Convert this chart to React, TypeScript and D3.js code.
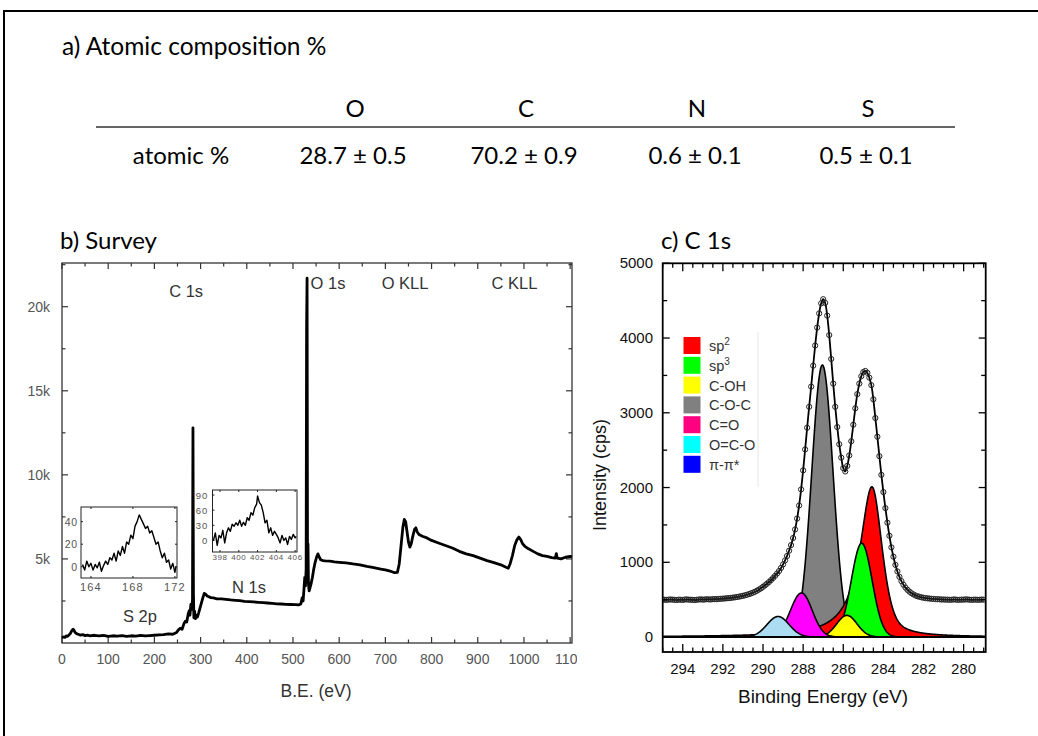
import React from 'react';
import * as d3 from 'd3';

// ---------- a) Atomic composition table ----------
const tableElements = ['O', 'C', 'N', 'S'];
const tableRowLabel = 'atomic %';
const tableValues = ['28.7 ± 0.5', '70.2 ± 0.9', '0.6 ± 0.1', '0.5 ± 0.1'];

// ---------- b) Survey spectrum (B.E. eV, counts) ----------
const surveyEnergy = [
  0, 3, 6, 9, 12, 15, 18, 21, 24, 26, 28, 31, 35, 40, 45, 50, 55, 60, 70, 80, 90, 100, 110, 120, 130, 140, 150,
  160, 170, 180, 190, 200, 210, 220, 230, 240, 248, 252, 256, 260, 264, 267, 270, 273, 275, 277, 279, 281, 282.5,
  283.5, 284.5, 285.5, 287, 289, 291, 293, 296, 299, 302, 305, 308, 311, 314, 318, 322, 328, 335, 345, 355, 365,
  375, 385, 395, 405, 415, 425, 435, 445, 455, 465, 475, 485, 495, 505, 512, 517, 520, 522, 524, 525.5, 527, 528.5,
  529.5, 530.5, 531.5, 532.5, 533.5, 535, 537, 539, 542, 545, 548, 551, 554, 557, 560, 565, 570, 580, 590, 600,
  615, 630, 645, 660, 675, 690, 700, 710, 720, 726, 730, 734, 738, 741, 744, 747, 750, 753, 756, 759, 763, 766,
  769, 773, 780, 790, 800, 815, 830, 845, 860, 875, 890, 905, 920, 935, 950, 960, 966, 970, 975, 980, 985, 989,
  993, 997, 1002, 1010, 1020, 1030, 1040, 1050, 1060, 1068, 1070, 1072, 1080, 1090, 1100, 1104,
];
const surveyCounts = [
  300, 360, 330, 420, 400, 480, 560, 720, 820, 760, 640, 560, 520, 470, 500, 440, 470, 430, 460, 420, 450, 400, 430, 410, 440, 400, 430,
  410, 450, 420, 440, 460, 480, 500, 540, 520, 620, 780, 880, 820, 1150, 1300, 1250, 1700, 1900, 1650, 2300, 2000, 2600,
  12800, 3000, 1500, 1900, 1450, 1650, 1550, 1800, 2100, 2400, 2700, 2950, 2900, 2800, 2750, 2700, 2680, 2630, 2620, 2590, 2560,
  2540, 2520, 2470, 2460, 2440, 2420, 2400, 2380, 2360, 2330, 2320, 2300, 2290, 2280, 2270, 2320, 2700, 2500, 3300, 3900, 3400, 4400,
  18800, 21700, 4200, 5900, 3500, 3100, 3300, 3500, 3900, 4400, 4800, 5100, 5300, 5100, 4950, 4900, 4880, 4870, 4830, 4800,
  4760, 4700, 4650, 4560, 4480, 4400, 4350, 4280, 4180, 4200, 4700, 5800, 6900, 7350, 7200, 6600, 6000, 5700, 5900, 6300, 6750, 6850,
  6600, 6450, 6350, 6250, 6100, 5950, 5800, 5650, 5450, 5300, 5200, 5050, 4900, 4780, 4650, 4520, 4450, 4700, 5200, 5800, 6150, 6300,
  6150, 5900, 5750, 5600, 5450, 5300, 5200, 5150, 5080, 5050, 5320, 5050, 5000, 5100, 5150, 5120,
];
const surveyXTickLabels = [0, 100, 200, 300, 400, 500, 600, 700, 800, 900, 1000, 1100];
const surveyYTickValues = [5000, 10000, 15000, 20000];
const surveyYTickLabels = ['5k', '10k', '15k', '20k'];
// peak annotations anchored in data coordinates (eV, counts)
const surveyLabelText = ['C 1s', 'O 1s', 'O KLL', 'C KLL', 'S 2p', 'N 1s'];
const surveyLabelEV = [232, 538, 692, 930, 132, 368];
const surveyLabelCounts = [20600, 21050, 21050, 21050, 1250, 2950];

// S 2p inset
const s2pEnergy = [
  163.2, 163.4, 163.6, 163.8, 164.0, 164.2, 164.4, 164.6, 164.8, 165.0, 165.2, 165.4, 165.6, 165.8, 166.0, 166.2,
  166.4, 166.6, 166.8, 167.0, 167.2, 167.4, 167.6, 167.8, 168.0, 168.2, 168.4, 168.6, 168.8, 169.0, 169.2, 169.4,
  169.6, 169.8, 170.0, 170.2, 170.4, 170.6, 170.8, 171.0, 171.2, 171.4, 171.6, 171.8, 172.0, 172.1,
];
const s2pCounts = [
  2, -3, 5, 0, 3, -3, 2, -1, 4, -4, 1, 5, 2, 8, 6, 12,
  5, 14, 10, 18, 12, 22, 20, 28, 25, 36, 40, 46, 42, 38, 34, 36,
  30, 32, 26, 20, 22, 14, 8, 12, 4, 6, -2, 3, -5, 0,
];
const s2pXTicks = [164, 168, 172];
const s2pYTicks = [0, 20, 40];

// N 1s inset
const n1sEnergy = [
  397.3, 397.5, 397.7, 397.9, 398.1, 398.3, 398.5, 398.7, 398.9, 399.1, 399.3, 399.5, 399.7, 399.9, 400.1, 400.3,
  400.5, 400.7, 400.9, 401.1, 401.3, 401.5, 401.7, 401.9, 402.0, 402.2, 402.4, 402.6, 402.8, 403.0, 403.2, 403.4,
  403.6, 403.8, 404.0, 404.2, 404.4, 404.6, 404.8, 405.0, 405.2, 405.4, 405.6, 405.8, 406.0, 406.1,
];
const n1sCounts = [
  0, 15, -10, 10, 5, 20, -5, 15, 25, 18, 32, 28, 35, 30, 40, 28,
  36, 30, 45, 40, 55, 50, 65, 72, 88, 75, 70, 55, 35, 40, 15, 25,
  10, 18, 12, 5, -5, 10, 0, 5, -8, 8, 2, 12, 5, 8,
];
const n1sXTicks = [398, 400, 402, 404, 406];
const n1sYTicks = [0, 30, 60, 90];

// ---------- c) C 1s ----------
const c1sStartEV = 295.0;
const c1sStepEV = 0.1;
const c1sCounts = [
  502, 499, 497, 501, 503, 500, 498, 495, 501, 499, 496, 502, 504, 500, 499, 497, 495, 499, 502, 505,
  500, 503, 506, 504, 503, 507, 508, 506, 511, 512, 514, 516, 519, 521, 524, 528, 531, 536, 540, 546,
  552, 558, 566, 574, 584, 594, 606, 620, 636, 652, 672, 692, 714, 737, 762, 789, 818, 850, 884, 925,
  972, 1025, 1085, 1155, 1230, 1325, 1440, 1585, 1760, 1975, 2230, 2510, 2800, 3080, 3350, 3630, 3900, 4140, 4330, 4465,
  4520, 4470, 4300, 4040, 3720, 3390, 3080, 2810, 2580, 2400, 2260, 2215, 2290, 2430, 2620, 2840, 3060, 3250, 3390, 3490,
  3545, 3560, 3535, 3470, 3370, 3180, 2930, 2680, 2420, 2170, 1940, 1725, 1530, 1355, 1200, 1075, 965, 878, 805, 748,
  700, 662, 632, 607, 586, 570, 556, 546, 538, 531, 526, 521, 518, 515, 512, 510, 508, 506, 505, 502,
  503, 500, 501, 498, 499, 503, 502, 497, 498, 501, 500, 504, 503, 499, 497, 500, 501, 498, 499, 502,
  500,
];
// fitted components (drawing order): name, centre (eV), height (cps), FWHM high-BE side, FWHM low-BE side, Lorentz fraction high/low
const compNames = ['C-O-C', 'sp2', 'sp3', 'C-OH', 'C=O', 'O=C-O'];
const compCenter = [287.04, 284.57, 285.08, 285.82, 288.08, 289.25];
const compHeight = [3640, 2010, 1255, 290, 590, 275];
const compFwhmHigh = [1.25, 1.45, 1.22, 1.2, 1.3, 1.3];
const compFwhmLow = [1.25, 1.2, 1.22, 1.2, 1.25, 1.3];
const compLorHigh = [0, 1.0, 0, 0, 0, 0];
const compLorLow = [0, 0.5, 0, 0, 0, 0];
const compColors = ['#808080', '#ff0000', '#00ff00', '#ffff00', '#ff00ff', '#acdcf2'];

const legendNames = ['sp', 'sp', 'C-OH', 'C-O-C', 'C=O', 'O=C-O', 'π-π*'];
const legendSup = ['2', '3', '', '', '', '', ''];
const legendColors = ['#ff0000', '#00ff00', '#ffff00', '#808080', '#ff0080', '#00ffff', '#0000ff'];

const c1sXTickLabels = [294, 292, 290, 288, 286, 284, 282, 280];
const c1sYTickLabels = [0, 1000, 2000, 3000, 4000, 5000];

function lineShape(x: number, i: number): number {
  const dx = x - compCenter[i];
  const hi = dx > 0;
  const w = hi ? compFwhmHigh[i] : compFwhmLow[i];
  const m = hi ? compLorHigh[i] : compLorLow[i];
  const t = (dx * dx) / (w * w);
  const g = Math.exp(-4 * Math.LN2 * t);
  const l = 1 / (1 + 4 * t);
  return compHeight[i] * ((1 - m) * g + m * l);
}

const SANS = '"Liberation Sans", Arial, sans-serif';
const CAL = 'Lato, "Open Sans", sans-serif';

export default function App() {
  // ---- survey scales ----
  const sx = d3.scaleLinear().domain([0, 1104]).range([62, 572]);
  const sy = d3.scaleLinear().domain([0, 22600]).range([643, 263]);
  const surveyPath = d3
    .line<number>()
    .x((_, i) => sx(surveyEnergy[i]))
    .y((d) => sy(d))(surveyCounts) as string;
  const sxMinor = d3.range(0, 1104, 50);
  const syMinor = d3.range(2500, 22600, 2500);

  // insets
  const ax = d3.scaleLinear().domain([163.05, 172.2]).range([81, 177]);
  const ay = d3.scaleLinear().domain([-10, 53]).range([578, 507]);
  const s2pPath = d3.line<number>().x((_, i) => ax(s2pEnergy[i])).y((d) => ay(d))(s2pCounts) as string;
  const bx = d3.scaleLinear().domain([397.2, 406.2]).range([212.5, 297]);
  const by = d3.scaleLinear().domain([-23, 100]).range([552, 490]);
  const n1sPath = d3.line<number>().x((_, i) => bx(n1sEnergy[i])).y((d) => by(d))(n1sCounts) as string;

  // ---- C 1s scales ----
  const cx = d3.scaleLinear().domain([295, 278.9]).range([662.7, 985.7]);
  const cy = d3.scaleLinear().domain([-200, 5000]).range([652, 263.3]);
  const c1sPts = c1sCounts.map((v, i) => [c1sStartEV - i * c1sStepEV, v] as [number, number]);
  const envPath = d3
    .line<[number, number]>()
    .x((d) => cx(d[0]))
    .y((d) => cy(d[1]))
    .curve(d3.curveCatmullRom)(c1sPts) as string;
  const grid = d3.range(295, 278.9, -0.02);
  const compAreas = compNames.map((_, i) =>
    d3
      .area<number>()
      .x((e) => cx(e))
      .y0(cy(0))
      .y1((e) => cy(lineShape(e, i)))(grid) as string
  );
  const cxMinor = d3.range(279, 295.01, 0.5);
  const cyMinor = d3.range(0, 5001, 500);

  const tickCol = '#333';

  return (
    <svg
      width={1038}
      height={736}
      viewBox="0 0 1038 736"
      style={{ position: 'absolute', left: 0, top: 0, background: '#fff' }}
    >
      <defs>
        <clipPath id="surveyClip">
          <rect x={0} y={200} width={577} height={536} />
        </clipPath>
        <clipPath id="c1sClip">
          <rect x={662.7} y={263.3} width={323} height={388.7} />
        </clipPath>
      </defs>
      <rect x={0} y={0} width={1038} height={736} fill="#fff" />
      <rect x={4} y={11} width={1060} height={760} fill="none" stroke="#000" strokeWidth={2} />

      {/* a) table */}
      <text x={62} y={55} fontFamily={CAL} fontSize={24.5} fill="#000">
        a) Atomic composition %
      </text>
      {tableElements.map((e, i) => (
        <text key={e} x={355 + i * 171} y={117} textAnchor="middle" fontFamily={CAL} fontSize={24} fill="#000">
          {e}
        </text>
      ))}
      <line x1={96} x2={955} y1={127} y2={127} stroke="#333" strokeWidth={1.6} />
      <text x={181} y={164} textAnchor="middle" fontFamily={CAL} fontSize={24} fill="#000">
        {tableRowLabel}
      </text>
      {tableValues.map((v, i) => (
        <text key={v} x={353 + i * 171} y={164} textAnchor="middle" fontFamily={CAL} fontSize={24} fill="#000">
          {v}
        </text>
      ))}

      {/* b) survey */}
      <text x={60} y={249} fontFamily={CAL} fontSize={24} fill="#000">
        b) Survey
      </text>
      <g clipPath="url(#surveyClip)">
        <rect x={62} y={263} width={510} height={380} fill="none" stroke="#333" strokeWidth={1.3} />
        {sxMinor.map((v) => {
          const major = v % 100 === 0;
          const len = major ? 6 : 3.5;
          return (
            <g key={'sx' + v}>
              <line x1={sx(v)} x2={sx(v)} y1={643} y2={643 - len} stroke={tickCol} strokeWidth={1.2} />
              <line x1={sx(v)} x2={sx(v)} y1={263} y2={263 + len} stroke={tickCol} strokeWidth={1.2} />
            </g>
          );
        })}
        {syMinor.map((v) => {
          const major = v % 5000 === 0;
          const len = major ? 6 : 3.5;
          return (
            <g key={'sy' + v}>
              <line x1={62} x2={62 + len} y1={sy(v)} y2={sy(v)} stroke={tickCol} strokeWidth={1.2} />
              <line x1={572} x2={572 - len} y1={sy(v)} y2={sy(v)} stroke={tickCol} strokeWidth={1.2} />
            </g>
          );
        })}
        {surveyXTickLabels.map((v) => (
          <text key={'sxl' + v} x={sx(v)} y={664} textAnchor="middle" fontFamily={SANS} fontSize={14} fill="#555">
            {v}
          </text>
        ))}
        {surveyYTickValues.map((v, i) => (
          <text key={'syl' + v} x={50} y={sy(v) + 5} textAnchor="end" fontFamily={SANS} fontSize={14} fill="#555">
            {surveyYTickLabels[i]}
          </text>
        ))}
        <path d={surveyPath} fill="none" stroke="#000" strokeWidth={2.8} strokeLinejoin="round" />
        {surveyLabelText.map((t, i) => (
          <text
            key={t}
            x={sx(surveyLabelEV[i])}
            y={sy(surveyLabelCounts[i])}
            fontFamily={SANS}
            fontSize={16.5}
            fill="#333"
          >
            {t}
          </text>
        ))}
        <text x={316} y={697} textAnchor="middle" fontFamily={SANS} fontSize={17.5} fill="#333">
          B.E. (eV)
        </text>

        {/* S 2p inset */}
        <rect x={81} y={507} width={96} height={71} fill="#fff" stroke="#222" strokeWidth={1} />
        {s2pXTicks.map((v) => (
          <g key={'ax' + v}>
            <line x1={ax(v)} x2={ax(v)} y1={578} y2={576} stroke="#222" />
            <line x1={ax(v)} x2={ax(v)} y1={507} y2={509} stroke="#222" />
            <text x={ax(v)} y={591} textAnchor="middle" fontFamily={SANS} fontSize={11} letterSpacing={1.2} fill="#555">
              {v}
            </text>
          </g>
        ))}
        {s2pYTicks.map((v) => (
          <g key={'ay' + v}>
            <line x1={81} x2={83} y1={ay(v)} y2={ay(v)} stroke="#222" />
            <line x1={177} x2={175} y1={ay(v)} y2={ay(v)} stroke="#222" />
            <text x={78} y={ay(v) + 4} textAnchor="end" fontFamily={SANS} fontSize={10.5} letterSpacing={0.8} fill="#555">
              {v}
            </text>
          </g>
        ))}
        <path d={s2pPath} fill="none" stroke="#000" strokeWidth={1.4} strokeLinejoin="round" />

        {/* N 1s inset */}
        <rect x={212.5} y={490} width={84.5} height={62} fill="#fff" stroke="#222" strokeWidth={1} />
        {n1sXTicks.map((v) => (
          <g key={'bx' + v}>
            <line x1={bx(v)} x2={bx(v)} y1={552} y2={550} stroke="#222" />
            <line x1={bx(v)} x2={bx(v)} y1={490} y2={492} stroke="#222" />
            <text x={bx(v)} y={560} textAnchor="middle" fontFamily={SANS} fontSize={8} letterSpacing={0.6} fill="#555">
              {v}
            </text>
          </g>
        ))}
        {n1sYTicks.map((v) => (
          <g key={'by' + v}>
            <line x1={212.5} x2={214.5} y1={by(v)} y2={by(v)} stroke="#222" />
            <text x={208} y={by(v) + 3.5} textAnchor="end" fontFamily={SANS} fontSize={9.5} letterSpacing={0.8} fill="#555">
              {v}
            </text>
          </g>
        ))}
        <path d={n1sPath} fill="none" stroke="#000" strokeWidth={1.4} strokeLinejoin="round" />
      </g>

      {/* c) C 1s */}
      <text x={661} y={249} fontFamily={CAL} fontSize={24} fill="#000">
        c) C 1s
      </text>
      <g clipPath="url(#c1sClip)">
        {compAreas.map((d, i) => (
          <path key={compNames[i]} d={d} fill={compColors[i]} stroke="#000" strokeWidth={1.6} strokeLinejoin="round" />
        ))}
        <line x1={662.7} x2={985.7} y1={cy(0)} y2={cy(0)} stroke="#000" strokeWidth={2} />
        <path d={envPath} fill="none" stroke="#000" strokeWidth={1.8} />
        {c1sPts.map((p, i) => (
          <circle key={'c' + i} cx={cx(p[0])} cy={cy(p[1])} r={2.6} fill="none" stroke="#222" strokeWidth={1} />
        ))}
      </g>
      <rect x={662.7} y={263.3} width={323} height={388.7} fill="none" stroke="#000" strokeWidth={1.8} />
      {cxMinor.map((v) => {
        const major = Math.abs(v % 2) < 1e-6;
        const len = major ? 8 : 4.5;
        return (
          <g key={'cx' + v}>
            <line x1={cx(v)} x2={cx(v)} y1={652} y2={652 - len} stroke="#000" strokeWidth={1.3} />
            <line x1={cx(v)} x2={cx(v)} y1={263.3} y2={263.3 + len} stroke="#000" strokeWidth={1.3} />
          </g>
        );
      })}
      {cyMinor.map((v) => {
        const major = v % 1000 === 0;
        const len = major ? 7 : 4.5;
        return (
          <g key={'cy' + v}>
            <line x1={662.7} x2={662.7 + len} y1={cy(v)} y2={cy(v)} stroke="#000" strokeWidth={1.3} />
            <line x1={985.7} x2={985.7 - len} y1={cy(v)} y2={cy(v)} stroke="#000" strokeWidth={1.3} />
          </g>
        );
      })}
      {c1sXTickLabels.map((v) => (
        <text key={'cxl' + v} x={cx(v)} y={674} textAnchor="middle" fontFamily={SANS} fontSize={15} fill="#111">
          {v}
        </text>
      ))}
      {c1sYTickLabels.map((v) => (
        <text key={'cyl' + v} x={653} y={cy(v) + 5} textAnchor="end" fontFamily={SANS} fontSize={15} fill="#111">
          {v}
        </text>
      ))}
      <text
        transform="translate(606,475) rotate(-90)"
        textAnchor="middle"
        fontFamily={SANS}
        fontSize={18}
        fill="#111"
      >
        Intensity (cps)
      </text>
      <text x={823} y={703} textAnchor="middle" fontFamily={SANS} fontSize={19} fill="#111">
        Binding Energy (eV)
      </text>

      {/* legend */}
      <line x1={758} x2={758} y1={332} y2={487} stroke="#e6e6e6" strokeWidth={1} />
      {legendNames.map((n, i) => {
        const top = 337 + i * 19.8;
        return (
          <g key={'lg' + i}>
            <rect x={683.5} y={top} width={17} height={17} fill={legendColors[i]} />
            <text x={709} y={top + 14} fontFamily={SANS} fontSize={14.5} fill="#333">
              {n}
              {legendSup[i] ? (
                <tspan fontSize={10} dy={-6}>
                  {legendSup[i]}
                </tspan>
              ) : null}
            </text>
          </g>
        );
      })}
    </svg>
  );
}
